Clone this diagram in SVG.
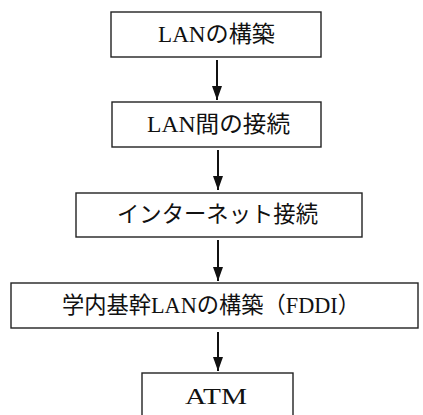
<svg xmlns="http://www.w3.org/2000/svg" width="423" height="415" viewBox="0 0 423 415">
  <style>
    .box { fill: #ffffff; stroke: #222222; stroke-width: 1.4; }
    .lbl { font-family: "Liberation Serif", "Noto Sans CJK JP", serif; font-size: 22.5px; fill: #111111; text-anchor: middle; }
    .conn { stroke: #111111; stroke-width: 2; fill: none; }
  </style>
  <defs>
    <marker id="arrow" markerUnits="userSpaceOnUse" markerWidth="14" markerHeight="10" viewBox="0 0 14 10" refX="14" refY="5" orient="auto">
      <path d="M0,0 L14,5 L0,10 Z" fill="#111111"/>
    </marker>
  </defs>
  <rect width="423" height="415" fill="#ffffff"/>
  <g id="node-lan">
    <rect class="box" x="111" y="12" width="210" height="45"/>
    <text class="lbl" x="216.5" y="42" textLength="117" lengthAdjust="spacingAndGlyphs">LANの構築</text>
  </g>
  <g id="node-lan-interconnect">
    <rect class="box" x="112" y="102" width="209" height="45"/>
    <text class="lbl" x="218.5" y="132" textLength="143" lengthAdjust="spacingAndGlyphs">LAN間の接続</text>
  </g>
  <g id="node-internet">
    <rect class="box" x="76" y="193" width="286" height="44"/>
    <text class="lbl" x="217.5" y="222" textLength="201" lengthAdjust="spacingAndGlyphs">インターネット接続</text>
  </g>
  <g id="node-backbone">
    <rect class="box" x="11" y="283" width="407" height="45"/>
    <text class="lbl" x="211" y="313" textLength="298" lengthAdjust="spacingAndGlyphs">学内基幹LANの構築（FDDI）</text>
  </g>
  <g id="node-atm">
    <rect class="box" x="142" y="373" width="151" height="60"/>
    <text class="lbl" x="216" y="404" textLength="62" lengthAdjust="spacingAndGlyphs">ATM</text>
  </g>
  <g id="connectors">
    <line class="conn" x1="217" y1="60" x2="217" y2="100" marker-end="url(#arrow)"/>
    <line class="conn" x1="218" y1="150" x2="218" y2="190" marker-end="url(#arrow)"/>
    <line class="conn" x1="218" y1="240" x2="218" y2="281" marker-end="url(#arrow)"/>
    <line class="conn" x1="218" y1="332" x2="218" y2="371" marker-end="url(#arrow)"/>
  </g>
</svg>
